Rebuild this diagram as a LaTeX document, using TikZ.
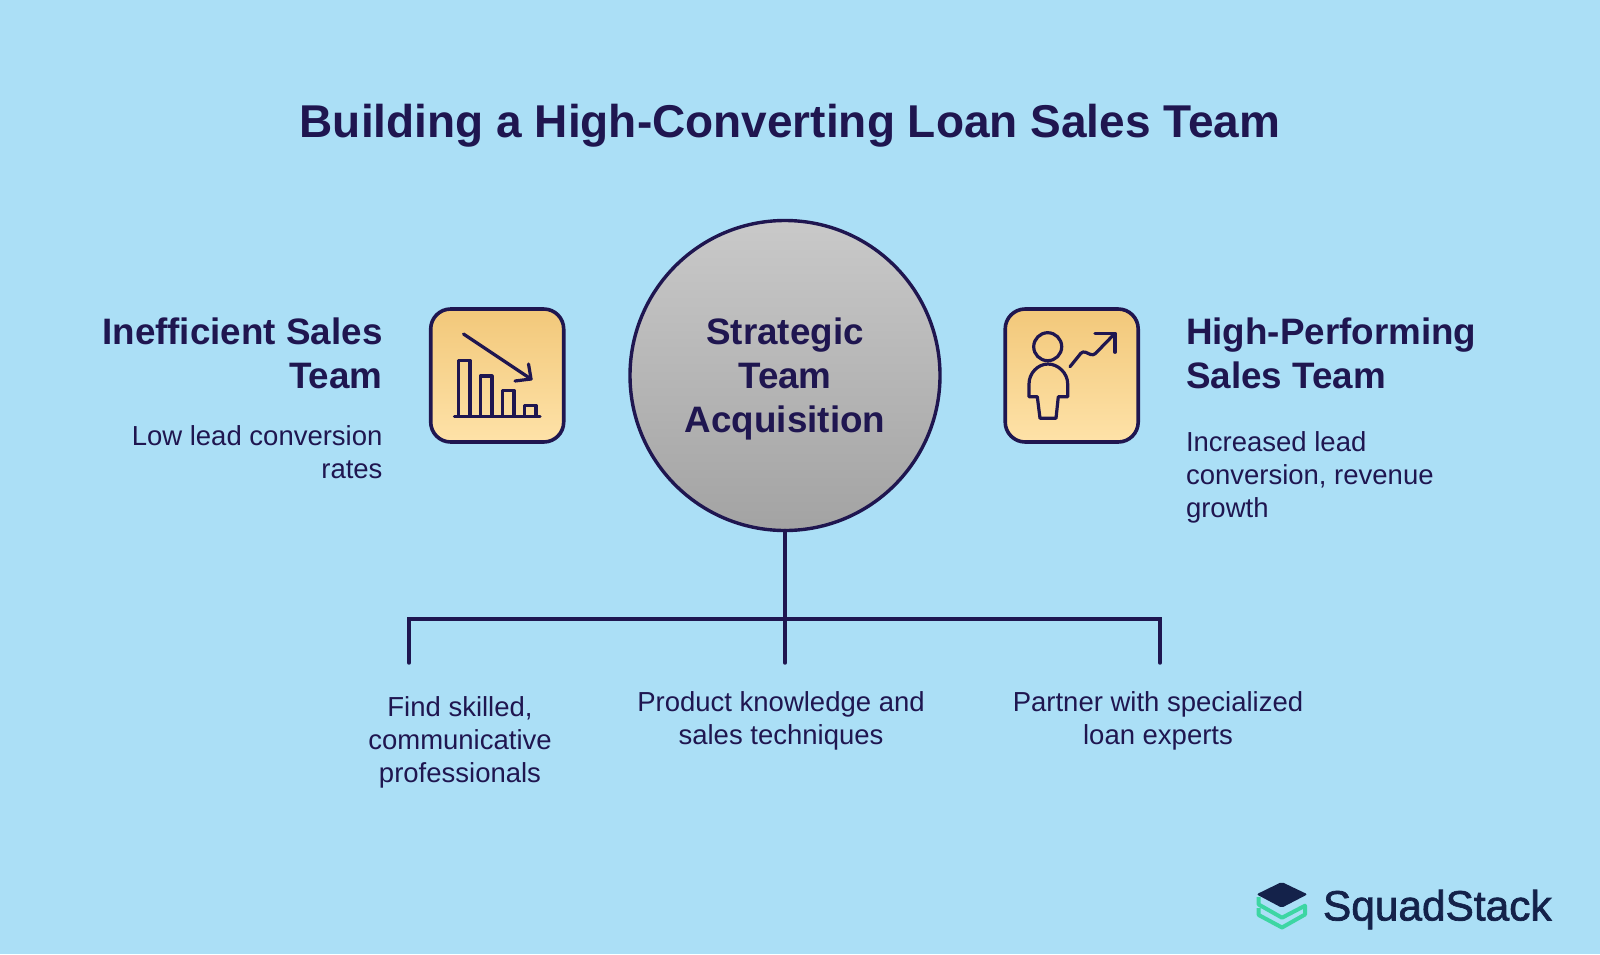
\documentclass[tikz,border=0pt]{standalone}
\usepackage{fontspec}
\setmainfont{Liberation Sans}
\newfontfamily\logofont[FakeBold=1.6]{Liberation Sans}
\definecolor{bgc}{HTML}{ABDFF6}
\definecolor{ink}{HTML}{1F1650}
\definecolor{logoink}{HTML}{14224A}
\definecolor{logogreen}{HTML}{3DD6A3}
\definecolor{ctop}{HTML}{C9C9C9}
\definecolor{cbot}{HTML}{A3A3A3}
\definecolor{btop}{HTML}{F2C87A}
\definecolor{bbot}{HTML}{FEE2A8}
\tikzset{
  x=1pt,y=-1pt,
  every node/.style={inner sep=0pt,outer sep=0pt,text=ink},
  titlet/.style={font=\fontsize{46}{54}\selectfont\bfseries},
  headt/.style={font=\fontsize{36.8}{44.4}\selectfont\bfseries},
  bodyt/.style={font=\fontsize{27.5}{33}\selectfont},
  iconbox/.style={draw=ink,line width=3.6pt,rounded corners=20pt,minimum width=133pt,minimum height=133pt,top color=btop,bottom color=bbot},
  hub/.style={circle,draw=ink,line width=3.4pt,minimum size=310pt,top color=ctop,bottom color=cbot},
  conn/.style={draw=ink,line width=3.4pt,line cap=round,line join=miter},
  glyph/.style={draw=ink,line width=3.2pt,line join=round,line cap=round},
}
\begin{document}
\begin{tikzpicture}
\useasboundingbox (0,0) rectangle (1600,954);
\fill[bgc] (0,0) rectangle (1600,954);
\node[titlet,anchor=center] (title) at (790,126) {Building a High-Converting Loan Sales Team};

\node[hub] (hubc) at (785,375.5) {};
\node[headt,align=center] (hubt) at (785,379) {Strategic\\Team\\Acquisition};

\node[iconbox] (lbox) at (497.2,375.5) {};
\node[iconbox] (rbox) at (1071.7,375.5) {};

% left icon
\draw[glyph] (463.5,334) -- (531,379);
\draw[glyph] (515,381) -- (531,379) -- (528.5,364);
\draw[glyph] (458.5,416) -- (458.5,360.5) -- (470,360.5) -- (470,416);
\draw[glyph] (480.5,416) -- (480.5,376) -- (492,376) -- (492,416);
\draw[glyph] (502.5,416) -- (502.5,390.5) -- (514,390.5) -- (514,416);
\draw[glyph] (524.5,416) -- (524.5,405.5) -- (536,405.5) -- (536,416);
\draw[glyph] (454.5,416.5) -- (540,416.5);

% right icon
\draw[glyph] (1047.7,346.7) circle (14);
\draw[glyph] (1029,396.7) -- (1029,384) .. controls (1029,373) and (1038,364) .. (1048,364) .. controls (1058,364) and (1067.7,373) .. (1067.7,384) -- (1067.7,396.7) -- (1058.3,396.7) -- (1056,418.3) -- (1040,418.3) -- (1037.3,396.7) -- cycle;
\draw[glyph,rounded corners=3pt] (1070,366.7) -- (1082.7,351) -- (1093.3,355.7) -- (1115,333.3);
\draw[glyph] (1095,333.3) -- (1115,333.3) -- (1115,352.3);

\node[headt,align=right,anchor=north east] (lhead) at (382.5,317.5) {Inefficient Sales\\Team};
\node[bodyt,align=right,anchor=north east] (lbody) at (382.5,425.5) {Low lead conversion\\rates};
\node[headt,align=left,anchor=north west] (rhead) at (1186,317.5) {High-Performing\\Sales Team};
\node[bodyt,align=left,anchor=north west] (rbody) at (1186,431.5) {Increased lead\\conversion, revenue\\growth};

\coordinate (junction) at (785,619);
\coordinate (cl) at (409,619);
\coordinate (cr) at (1160,619);
\coordinate (dl) at (409,663);
\coordinate (dm) at (785,663);
\coordinate (dr) at (1160,663);
\draw[conn] (hubc.south) -- (dm);
\draw[conn] (dl) -- (cl) -- (cr) -- (dr);

\node[bodyt,align=center,anchor=north] (t1) at (460,696.5) {Find skilled,\\communicative\\professionals};
\node[bodyt,align=center,anchor=north] (t2) at (781,691.5) {Product knowledge and\\sales techniques};
\node[bodyt,align=center,anchor=north] (t3) at (1158,691.5) {Partner with specialized\\loan experts};

% logo
\draw[logogreen,line width=4pt,line join=round] (1258.7,897) -- (1258.7,904.5) -- (1282,917.7) -- (1305,905.7) -- (1305,914.5) -- (1282,927.5) -- (1258.7,915) -- (1258.7,908);
\fill[logoink,rounded corners=2pt] (1256.5,894.3) -- (1281.7,882) -- (1307.5,894.3) -- (1281.7,907.7) -- cycle;
\node[anchor=west,font=\fontsize{42.4}{48}\selectfont,text=logoink] (logo) at (1323,909.5) {\logofont SquadStack};
\end{tikzpicture}
\end{document}
